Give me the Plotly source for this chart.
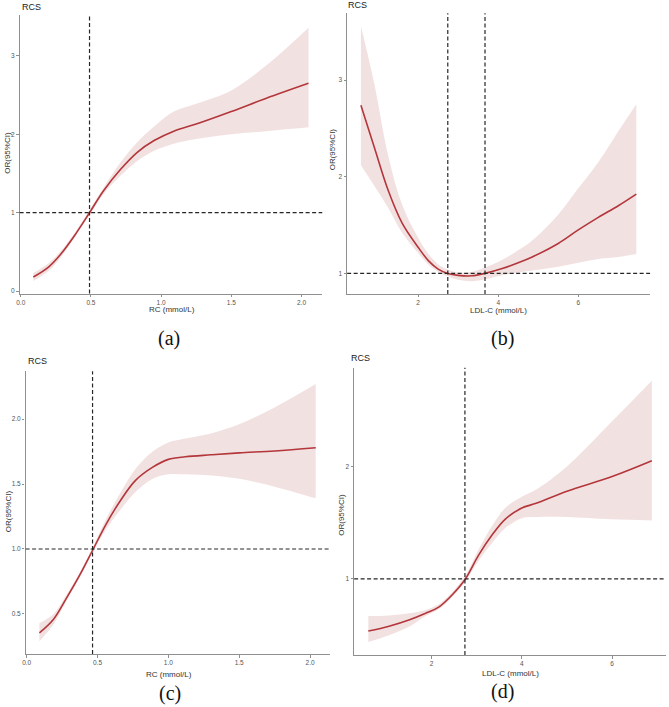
import plotly.graph_objects as go

# ---------------- data ----------------
# Panel (a): RC
a_x = [0.09, 0.2, 0.28, 0.38, 0.49, 0.59, 0.71, 0.83, 0.95, 1.09, 1.25, 1.5, 1.75, 2.05]
a_or = [0.18, 0.31, 0.46, 0.70, 1.0, 1.28, 1.55, 1.77, 1.92, 2.04, 2.13, 2.29, 2.46, 2.65]
a_lo = [0.13, 0.26, 0.42, 0.67, 0.97, 1.24, 1.47, 1.66, 1.79, 1.88, 1.94, 2.00, 2.04, 2.09]
a_hi = [0.23, 0.36, 0.50, 0.73, 1.03, 1.32, 1.64, 1.90, 2.10, 2.29, 2.39, 2.56, 2.88, 3.36]
a_ref = [0.49]

# Panel (b): LDL-C
b_x = [0.57, 0.9, 1.25, 1.6, 2.0, 2.26, 2.5, 2.74, 3.0, 3.34, 3.67, 4.1, 4.5, 4.85, 5.5, 6.0, 6.5, 7.0, 7.45]
b_or = [2.74, 2.31, 1.86, 1.52, 1.27, 1.13, 1.045, 1.0, 0.98, 0.975, 1.0, 1.05, 1.11, 1.17, 1.31, 1.45, 1.58, 1.70, 1.82]
b_lo = [2.12, 1.91, 1.68, 1.42, 1.21, 1.09, 1.015, 0.97, 0.935, 0.92, 0.94, 0.98, 1.01, 1.03, 1.07, 1.11, 1.15, 1.17, 1.20]
b_hi = [3.56, 2.97, 2.22, 1.71, 1.37, 1.20, 1.095, 1.04, 1.01, 1.015, 1.06, 1.14, 1.24, 1.34, 1.61, 1.88, 2.15, 2.47, 2.75]
b_ref = [2.74, 3.67]

# Panel (c): RC
c_x = [0.09, 0.19, 0.28, 0.38, 0.47, 0.56, 0.66, 0.77, 0.89, 1.0, 1.12, 1.3, 1.5, 1.75, 2.04]
c_or = [0.355, 0.46, 0.62, 0.81, 1.0, 1.19, 1.37, 1.53, 1.63, 1.69, 1.71, 1.725, 1.74, 1.755, 1.78]
c_lo = [0.29, 0.42, 0.60, 0.79, 0.98, 1.15, 1.30, 1.44, 1.54, 1.575, 1.575, 1.565, 1.54, 1.48, 1.39]
c_hi = [0.43, 0.50, 0.645, 0.83, 1.02, 1.23, 1.43, 1.62, 1.75, 1.82, 1.85, 1.89, 1.96, 2.09, 2.27]
c_ref = [0.465]

# Panel (d): LDL-C
d_x = [0.6, 1.06, 1.5, 1.87, 2.16, 2.46, 2.75, 3.04, 3.34, 3.63, 4.0, 4.3, 5.0, 6.0, 6.88]
d_or = [0.537, 0.58, 0.635, 0.695, 0.75, 0.86, 1.0, 1.21, 1.39, 1.53, 1.63, 1.67, 1.78, 1.91, 2.05]
d_lo = [0.44, 0.50, 0.575, 0.67, 0.73, 0.84, 0.98, 1.16, 1.32, 1.45, 1.54, 1.55, 1.55, 1.53, 1.52]
d_hi = [0.67, 0.675, 0.695, 0.725, 0.775, 0.885, 1.03, 1.26, 1.47, 1.63, 1.73, 1.79, 2.00, 2.40, 2.76]
d_ref = [2.74]

# ticks
rc_ticks = [0.0, 0.5, 1.0, 1.5, 2.0]
rc_labels = ["0.0", "0.5", "1.0", "1.5", "2.0"]
ldl_ticks = [2, 4, 6]
ldl_labels = ["2", "4", "6"]

panels = [
    dict(x=a_x, y=a_or, lo=a_lo, hi=a_hi, ref=a_ref, xt=rc_ticks, xl=rc_labels,
         yt=[0, 1, 2, 3], yl=["0", "1", "2", "3"], xtitle="RC (mmol/L)", cap="(a)"),
    dict(x=b_x, y=b_or, lo=b_lo, hi=b_hi, ref=b_ref, xt=ldl_ticks, xl=ldl_labels,
         yt=[1, 2, 3], yl=["1", "2", "3"], xtitle="LDL-C (mmol/L)", cap="(b)"),
    dict(x=c_x, y=c_or, lo=c_lo, hi=c_hi, ref=c_ref, xt=rc_ticks, xl=rc_labels,
         yt=[0.5, 1.0, 1.5, 2.0], yl=["0.5", "1.0", "1.5", "2.0"], xtitle="RC (mmol/L)", cap="(c)"),
    dict(x=d_x, y=d_or, lo=d_lo, hi=d_hi, ref=d_ref, xt=ldl_ticks, xl=ldl_labels,
         yt=[1, 2], yl=["1", "2"], xtitle="LDL-C (mmol/L)", cap="(d)"),
]

# ---------------- layout geometry (pixels) ----------------
W, H = 669, 707
# plot boxes: left, right, top, bottom in px
boxes = [
    (16.7, 320.7, 15.0, 294.0),
    (345.7, 650.0, 13.3, 294.3),
    (22.7, 328.0, 371.7, 655.0),
    (352.7, 666.0, 368.3, 656.0),
]
rcs_pos = [(17, 7), (345, 5), (23, 362), (348, 359)]
xtitle_pos = [(170, 310), (498, 311), (167, 675), (510, 674)]
ytitle_pos = [(5, 153), (331, 150), (5, 512), (340, 515)]
cap_pos = [(167, 339), (502, 339), (168, 694), (502, 692)]

LINE = "#B3363B"
BAND = "rgba(236,212,212,0.70)"
AXC = "#8f8f8f"
TXT = "#3a3a3a"
FONT = "Liberation Sans"
DASH = "4px,2.5px"

fig = go.Figure()
layout = dict(
    width=W, height=H, margin=dict(l=0, r=0, t=0, b=0),
    paper_bgcolor="white", plot_bgcolor="white", showlegend=False,
    font=dict(family=FONT, color=TXT),
)
shapes = []
annotations = []

def expand(vals_lo, vals_hi):
    lo, hi = min(vals_lo), max(vals_hi)
    span = hi - lo
    return [lo - 0.05 * span, hi + 0.05 * span]

for i, p in enumerate(panels):
    n = i + 1
    xa = "x" if n == 1 else f"x{n}"
    ya = "y" if n == 1 else f"y{n}"
    L, R, T, B = boxes[i]
    fig.add_trace(go.Scatter(x=p["x"], y=p["lo"], mode="lines", line=dict(width=0, shape="spline", color=BAND),
                             xaxis=xa, yaxis=ya, hoverinfo="skip"))
    fig.add_trace(go.Scatter(x=p["x"], y=p["hi"], mode="lines", line=dict(width=0, shape="spline", color=BAND),
                             fill="tonexty", fillcolor=BAND, xaxis=xa, yaxis=ya, hoverinfo="skip"))
    fig.add_trace(go.Scatter(x=p["x"], y=p["y"], mode="lines", line=dict(width=1.6, shape="spline", color=LINE),
                             xaxis=xa, yaxis=ya))
    xr = expand(p["x"], p["x"])
    yr = expand(p["lo"], p["hi"])
    axis_common = dict(showgrid=False, zeroline=False, showline=True, linecolor=AXC, linewidth=1.2,
                       ticks="outside", ticklen=2.5, tickcolor=AXC, tickwidth=1,
                       tickfont=dict(size=6.5, color="#555555", family=FONT))
    layout["xaxis" if n == 1 else f"xaxis{n}"] = dict(
        domain=[L / W, R / W], range=xr, anchor=ya, tickvals=p["xt"], ticktext=p["xl"], **axis_common)
    layout["yaxis" if n == 1 else f"yaxis{n}"] = dict(
        domain=[1 - B / H, 1 - T / H], range=yr, anchor=xa, tickvals=p["yt"], ticktext=p["yl"], **axis_common)
    # reference lines
    shapes.append(dict(type="line", xref=f"{xa} domain", yref=ya, x0=0, x1=1, y0=1, y1=1,
                       line=dict(color="#262626", width=1.2, dash=DASH)))
    for r in p["ref"]:
        shapes.append(dict(type="line", xref=xa, yref=f"{ya} domain", x0=r, x1=r, y0=0, y1=1,
                           line=dict(color="#262626", width=1.2, dash=DASH)))
    # texts
    annotations.append(dict(text="RCS", x=rcs_pos[i][0] / W, y=1 - rcs_pos[i][1] / H, xref="paper", yref="paper",
                            xanchor="left", yanchor="middle", showarrow=False,
                            font=dict(size=9, color="#222222", family=FONT)))
    annotations.append(dict(text=p["xtitle"], x=xtitle_pos[i][0] / W, y=1 - xtitle_pos[i][1] / H,
                            xref="paper", yref="paper", xanchor="center", yanchor="middle", showarrow=False,
                            font=dict(size=8, color="#333333", family=FONT)))
    annotations.append(dict(text="OR(95%CI)", x=ytitle_pos[i][0] / W, y=1 - ytitle_pos[i][1] / H,
                            xref="paper", yref="paper", xanchor="center", yanchor="middle", showarrow=False,
                            textangle=-90, font=dict(size=8, color="#333333", family=FONT)))
    annotations.append(dict(text=p["cap"], x=cap_pos[i][0] / W, y=1 - cap_pos[i][1] / H,
                            xref="paper", yref="paper", xanchor="center", yanchor="middle", showarrow=False,
                            font=dict(size=20, color="#111111", family="Liberation Serif")))

layout["shapes"] = shapes
layout["annotations"] = annotations
fig.update_layout(**layout)
fig.write_html("out.html", config={"displayModeBar": False},
               post_script="document.body.style.margin='0px';document.body.style.padding='0px';"
                           "document.body.style.overflow='hidden';")
